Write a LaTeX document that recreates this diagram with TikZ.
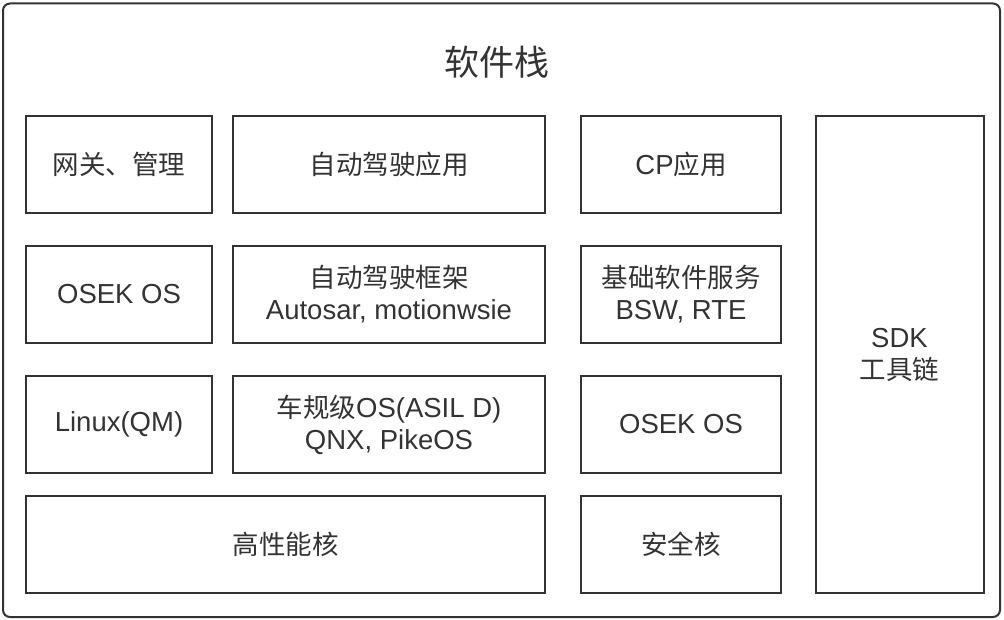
\documentclass[tikz,border=0pt]{standalone}
\usepackage{fontspec}
\setmainfont{Liberation Sans}
\newfontfamily\cjk{Noto Sans CJK SC}
\newcommand\zh[1]{{\fontsize{26.5}{32}\selectfont\cjk #1}}
\definecolor{ink}{HTML}{333333}
\begin{document}
\begin{tikzpicture}[x=1pt,y=-1pt,
  blk/.style={draw=ink, line width=2pt, text=ink, inner sep=0pt, align=center,
    font=\fontsize{27.5}{32}\selectfont},
  outer/.style={draw=ink, line width=2pt, rounded corners=7pt},
  ttl/.style={text=ink, font=\fontsize{35}{40}\selectfont\cjk}]
\useasboundingbox (0,0) rectangle (1004,620);
\draw[outer] (3,3.5) rectangle (1000,617);
\node[ttl] (title) at (497,62) {软件栈};
% row 1
\node[blk, minimum width=186pt, minimum height=97pt] (gw) at (119,164.5) {\zh{网关、管理}};
\node[blk, minimum width=312pt, minimum height=97pt] (adapp) at (389,164.5) {\zh{自动驾驶应用}};
\node[blk, minimum width=200pt, minimum height=97pt] (cpapp) at (681,164.5) {CP\zh{应用}};
% row 2
\node[blk, minimum width=186pt, minimum height=97pt] (osek1) at (119,294.5) {OSEK OS};
\node[blk, minimum width=312pt, minimum height=97pt] (adfw) at (389,294.5) {\zh{自动驾驶框架}\\Autosar, motionwsie};
\node[blk, minimum width=200pt, minimum height=97pt] (bsw) at (681,294.5) {\zh{基础软件服务}\\BSW, RTE};
% row 3
\node[blk, minimum width=186pt, minimum height=97pt] (linux) at (119,424.5) {Linux(QM)};
\node[blk, minimum width=312pt, minimum height=97pt] (rtos) at (389,424.5) {\zh{车规级}OS(ASIL D)\\QNX, PikeOS};
\node[blk, minimum width=200pt, minimum height=97pt] (osek2) at (681,424.5) {OSEK OS};
% row 4
\node[blk, minimum width=519pt, minimum height=97pt] (hpc) at (285.5,544.5) {\zh{高性能核}};
\node[blk, minimum width=200pt, minimum height=97pt] (safe) at (681,544.5) {\zh{安全核}};
% SDK
\node[blk, minimum width=168pt, minimum height=477pt] (sdk) at (899.5,354.5) {SDK\\\zh{工具链}};
\end{tikzpicture}
\end{document}
